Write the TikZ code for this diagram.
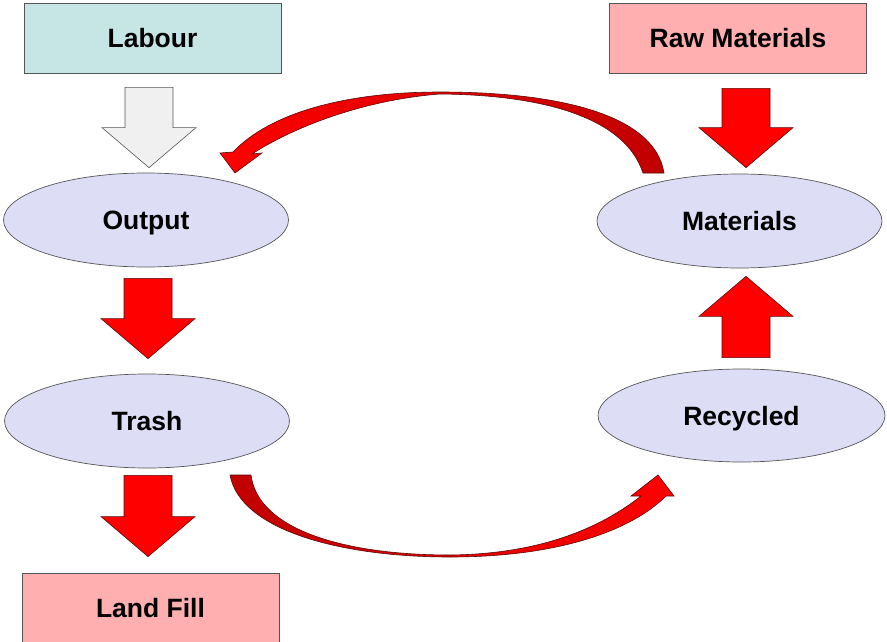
\documentclass[tikz,border=0pt]{standalone}
\usepackage{fontspec}
\newfontfamily\lblfont{Liberation Sans}
\usetikzlibrary{shapes.geometric,calc}

\definecolor{labourfill}{RGB}{198,230,230}
\definecolor{pinkfill}{RGB}{255,175,175}
\definecolor{ovalfill}{RGB}{221,221,245}
\definecolor{paleshaft}{RGB}{240,240,240}
\definecolor{darkred}{RGB}{192,0,0}
\definecolor{arrowedge}{RGB}{90,10,10}
\definecolor{edgegray}{RGB}{85,85,85}

\tikzset{
  lbl/.style={font=\lblfont\bfseries\fontsize{26.5}{30}\selectfont,
              text height=19pt, text depth=0pt},
  box/.style={lbl, draw=edgegray, line width=0.8pt, minimum width=257pt,
              minimum height=70pt, inner sep=0pt},
  oval/.style={lbl, ellipse, draw=edgegray, line width=0.7pt, fill=ovalfill,
               minimum width=285pt, minimum height=94pt, inner sep=0pt},
  % fat block arrow from tail centre to tip
  blockarrow/.style={to path={
      let \p1=(\tikztostart), \p2=(\tikztotarget),
          \p3=($(\tikztotarget)!40pt!(\tikztostart)$) in
      (\x1-24pt,\y1) -- (\x1+24pt,\y1) -- (\x1+24pt,\y3) -- (\x1+47pt,\y3)
      -- (\x1,\y2) -- (\x1-47pt,\y3) -- (\x1-24pt,\y3) -- cycle}},
  redarrow/.style={blockarrow, fill=red, draw=arrowedge, line width=0.6pt},
  palearrow/.style={blockarrow, fill=paleshaft, draw=edgegray, line width=0.6pt},
  curvedband/.style={draw=arrowedge, line width=0.6pt},
}

\begin{document}
\begin{tikzpicture}[x=1pt,y=-1pt]
  \useasboundingbox (0,0) rectangle (887,642);

  % boxes
  \node[box, fill=labourfill] (lab) at (152.5,38) {Labour};
  \node[box, fill=pinkfill] (raw) at (738,38) {Raw Materials};
  \node[box, fill=pinkfill] (fill) at (150.5,608) {Land Fill};

  % ovals
  \node[oval] (out) at (146,220) {Output};
  \node[oval] (mat) at (739.5,221) {Materials};
  \node[oval] (trash) at (147,421) {Trash};
  \node[oval, minimum width=287pt, minimum height=93pt] (rec) at (741.5,415.5) {Recycled};

  % straight block arrows
  \draw[palearrow] ([xshift=-3.5pt,yshift=-14pt]lab.south) to ([xshift=3pt,yshift=5pt]out.north);
  \draw[redarrow] ([xshift=8pt,yshift=-15pt]raw.south) to ([xshift=6.5pt,yshift=6pt]mat.north);
  \draw[redarrow] ([xshift=2pt,yshift=-11pt]out.south) to ([xshift=1pt,yshift=15pt]trash.north);
  \draw[redarrow] ([xshift=1pt,yshift=-7pt]trash.south) to ([xshift=-2.5pt,yshift=16pt]fill.north);
  \draw[redarrow] ([xshift=4.5pt,yshift=11pt]rec.north) to ([xshift=6.5pt,yshift=-8pt]mat.south);

  % curved arrow Materials -> Output
  \path[curvedband, left color=red, right color=darkred]
    (664,173) .. controls (655,115) and (560,92) .. (440,92)
    .. controls (345,92) and (270,113) .. (233,152)
    -- (220,153) -- (235,173) -- (262,153) -- (252,154)
    .. controls (292,128) and (362,100) .. (440,94)
    .. controls (545,95) and (625,118) .. (643,173) -- cycle;

  % curved arrow Trash -> Recycled
  \path[curvedband, left color=darkred, right color=red]
    (230,475) .. controls (240,530) and (340,557) .. (450,557)
    .. controls (560,557) and (632,530) .. (666,496)
    -- (674,496) -- (658,475) -- (631,496) -- (641,496)
    .. controls (608,522) and (550,554) .. (450,555)
    .. controls (345,555) and (258,530) .. (251,475) -- cycle;
\end{tikzpicture}
\end{document}
